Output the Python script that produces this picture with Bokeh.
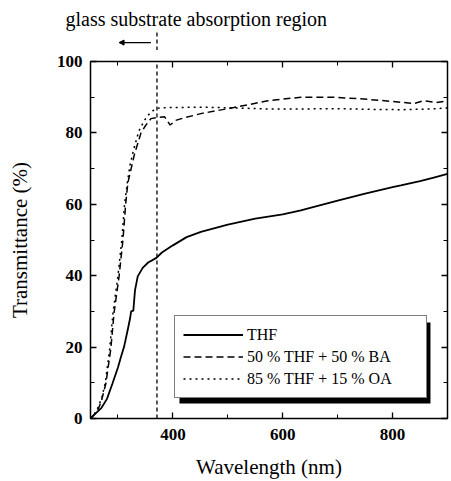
from bokeh.plotting import figure
from bokeh.layouts import column
from bokeh.models import (LinearAxis, SingleIntervalTicker, Range1d, Legend, LegendItem,
                          Title, Arrow, NormalHead, BoxAnnotation, CustomJSTickFormatter)
from bokeh.embed import file_html
from bokeh.resources import INLINE

# ---- data ----
wl_thf = [250, 255, 260, 270, 280, 290, 300, 305, 311, 318, 322, 324, 328, 331, 336, 345, 355,
          370, 380, 400, 425, 451, 500, 550, 600, 633, 650, 700, 750, 800, 815, 850, 875, 900]
t_thf = [0, 0.8, 1.5, 3, 5.5, 9.8, 14.3, 17, 20, 25, 28, 30, 30.2, 35.9, 39.8, 42.2, 43.7,
         45, 46.5, 48.5, 50.8, 52.3, 54.3, 56, 57.2, 58.3, 59, 61, 63, 64.8, 65.3, 66.5, 67.5, 68.5]

wl_ba = [250, 255, 263, 270, 278, 287, 293, 302, 309, 314, 318, 324, 330, 342, 350, 360, 370,
         385, 395, 405, 420, 451, 511, 573, 633, 693, 755, 815, 838, 856, 880, 900]
t_ba = [0, 0.8, 2.2, 5, 9.8, 19.6, 29.7, 39.8, 49.9, 60, 66, 70, 74, 80, 82, 84, 84.3,
        84.5, 82.2, 83.5, 84.2, 85.4, 87.1, 89, 90, 90, 89.4, 88.6, 88.2, 89, 88.5, 89]

wl_oa = [250, 256, 262, 270, 277, 285, 291, 300, 307, 312, 317, 322, 328, 338, 348, 358, 366,
         375, 390, 450, 511, 573, 633, 693, 755, 815, 870, 900]
t_oa = [0, 1, 2.5, 5.5, 10, 19.6, 29.7, 40, 50, 60, 66, 71, 75, 80.5, 83.5, 85.5, 86.5,
        87, 87.1, 87.2, 87, 86.7, 86.7, 86.8, 86.6, 86.5, 86.7, 87]

labels = ["THF", "50 % THF + 50 % BA", "85 % THF + 15 % OA"]
edge_nm = 371          # glass substrate absorption edge
arrow_from, arrow_to = 360, 302
note = "glass substrate absorption region"

SERIF = "Liberation Serif"
W = 451
TOP_H = 50
TOP_BORDER = 29
MAIN_H = 481 - TOP_H
BL, BR = 90, 4
X0, X1 = 250, 900
PX_PER_PCT = 3.57
GAP = 11  # main figure border above its frame
y_lo = 100 + GAP / PX_PER_PCT
y_hi = y_lo + (TOP_H - TOP_BORDER) / PX_PER_PCT

# ---- upper strip (annotation above the plot frame) ----
top = figure(width=W, height=TOP_H, output_backend="svg", toolbar_location=None,
             x_range=Range1d(X0, X1), y_range=Range1d(y_lo, y_hi),
             min_border_left=BL, min_border_right=BR, min_border_top=TOP_BORDER,
             min_border_bottom=0, x_axis_location=None, y_axis_location=None)
top.grid.visible = False
top.outline_line_color = None
t = Title(text=note, align="left", offset=-25, standoff=0, text_font=SERIF,
          text_font_size="20px", text_font_style="normal", text_color="black")
top.add_layout(t, "above")
top.add_layout(Arrow(end=None, x_start=edge_nm, y_start=y_lo, x_end=edge_nm, y_end=108.1,
                     line_color="black", line_width=1.3, line_dash="4 3"))
top.add_layout(Arrow(end=NormalHead(size=5, fill_color="black", line_color="black"),
                     x_start=arrow_from, y_start=105.3, x_end=arrow_to, y_end=105.3,
                     line_color="black", line_width=1.2))

# ---- main plot ----
p = figure(width=W, height=MAIN_H, output_backend="svg", toolbar_location=None,
           x_range=top.x_range, y_range=Range1d(0, 100),
           min_border_left=BL, min_border_right=BR, min_border_top=GAP, min_border_bottom=63,
           x_axis_location=None, y_axis_location=None)
p.grid.visible = False
p.outline_line_color = "black"
p.outline_line_width = 1.5


def style_axis(ax, show_labels):
    ax.axis_line_color = None
    ax.major_tick_in = 6
    ax.major_tick_out = 0
    ax.minor_tick_in = 4
    ax.minor_tick_out = 0
    ax.major_tick_line_width = 1.3
    ax.minor_tick_line_width = 1.0
    ax.major_tick_line_color = "black"
    ax.minor_tick_line_color = "black"
    if show_labels:
        ax.major_label_text_font = SERIF
        ax.major_label_text_font_size = "17px"
        ax.major_label_text_font_style = "bold"
        ax.major_label_text_color = "black"
        ax.major_label_standoff = 10
        ax.axis_label_text_font = SERIF
        ax.axis_label_text_font_size = "21px"
        ax.axis_label_text_font_style = "normal"
        ax.axis_label_text_color = "black"
    else:
        ax.formatter = CustomJSTickFormatter(code="return ''")
        ax.major_label_standoff = 0


xt = lambda: SingleIntervalTicker(interval=200, num_minor_ticks=2)
yt = lambda: SingleIntervalTicker(interval=20, num_minor_ticks=2)

xb = LinearAxis(ticker=xt(), axis_label="Wavelength (nm)")
style_axis(xb, True)
xb.axis_label_standoff = 12
p.add_layout(xb, "below")

yl = LinearAxis(ticker=yt(), axis_label="Transmittance (%)")
style_axis(yl, True)
yl.major_label_standoff = 8
yl.axis_label_standoff = 22
p.add_layout(yl, "left")

xa = LinearAxis(ticker=xt())
style_axis(xa, False)
p.add_layout(xa, "above")
yr = LinearAxis(ticker=yt())
style_axis(yr, False)
p.add_layout(yr, "right")

r1 = p.line(wl_thf, t_thf, line_color="black", line_width=1.8)
r2 = p.line(wl_ba, t_ba, line_color="black", line_width=1.5, line_dash="7 4")
r3 = p.line(wl_oa, t_oa, line_color="black", line_width=1.5, line_dash="2 4")

p.add_layout(Arrow(end=None, x_start=edge_nm, y_start=0, x_end=edge_nm, y_end=100,
                   line_color="black", line_width=1.3, line_dash="4 3"))

# legend shadow
p.add_layout(BoxAnnotation(left=412, right=869, bottom=4.2, top=26.9,
                           fill_color="black", fill_alpha=1.0, line_color=None))

legend = Legend(items=[LegendItem(label=labels[0], renderers=[r1]),
                       LegendItem(label=labels[1], renderers=[r2]),
                       LegendItem(label=labels[2], renderers=[r3])],
                location=(84, 20))
legend.label_text_font = SERIF
legend.label_text_font_size = "16px"
legend.label_text_color = "black"
legend.glyph_width = 60
legend.glyph_height = 21
legend.label_height = 21
legend.label_width = 171
legend.label_standoff = 4
legend.spacing = 1
legend.padding = 8
legend.margin = 0
legend.border_line_color = "black"
legend.border_line_width = 1.5
legend.background_fill_color = "white"
legend.background_fill_alpha = 1.0
p.add_layout(legend, "center")

layout = column(top, p, spacing=0)
open("out.html", "w").write(file_html(layout, INLINE))
